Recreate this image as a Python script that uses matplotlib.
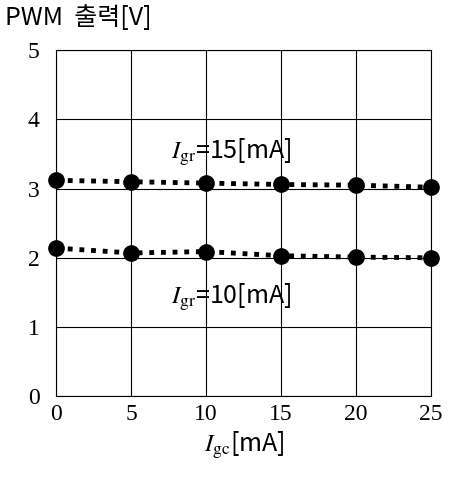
import matplotlib
matplotlib.use("Agg")
import matplotlib.pyplot as plt

# values
igc = [0, 5, 10, 15, 20, 25]
pwm_15 = [3.12, 3.10, 3.08, 3.06, 3.05, 3.02]
pwm_10 = [2.14, 2.07, 2.09, 2.03, 2.01, 2.00]
x_ticks = [0, 5, 10, 15, 20, 25]
y_ticks = [0, 1, 2, 3, 4, 5]

plt.rcParams.update({
    "mathtext.fontset": "stix",
    "axes.linewidth": 0.8,
})
SANS = ["Noto Sans CJK KR", "DejaVu Sans"]

fig = plt.figure(figsize=(4.49, 4.79), dpi=100)
ax = fig.add_axes([0.125, 0.173, 0.835, 0.722])

for ys in (pwm_15, pwm_10):
    ax.plot(igc, ys, color="black", lw=3.5, ls=(0, (1, 1.4)),
            marker="o", ms=11, mfc="black", mec="black", zorder=3,
            clip_on=False)

ax.set_xlim(0, 25)
ax.set_ylim(0, 5)
ax.set_xticks(x_ticks)
ax.set_yticks(y_ticks)
ax.tick_params(length=0, labelsize=17)
ax.tick_params(axis="x", pad=6)
ax.tick_params(axis="y", pad=12)
for lab in ax.get_xticklabels() + ax.get_yticklabels():
    lab.set_family("Liberation Serif")
ax.grid(True, color="black", lw=0.8)
ax.set_axisbelow(True)

ax.text(11.7, 3.53, r"$I_{\rm gr}$=15[mA]", ha="center", va="center",
        fontsize=18, family=SANS)
ax.text(11.7, 1.42, r"$I_{\rm gr}$=10[mA]", ha="center", va="center",
        fontsize=18, family=SANS)

fig.text(0.012, 0.962, "PWM  출력[V]", ha="left", va="center",
         fontsize=18, family=SANS)
fig.text(0.545, 0.07, r"$I_{\rm gc}$[mA]", ha="center", va="center",
         fontsize=18, family=SANS)

fig.savefig("out.png", dpi=100, facecolor="white")
